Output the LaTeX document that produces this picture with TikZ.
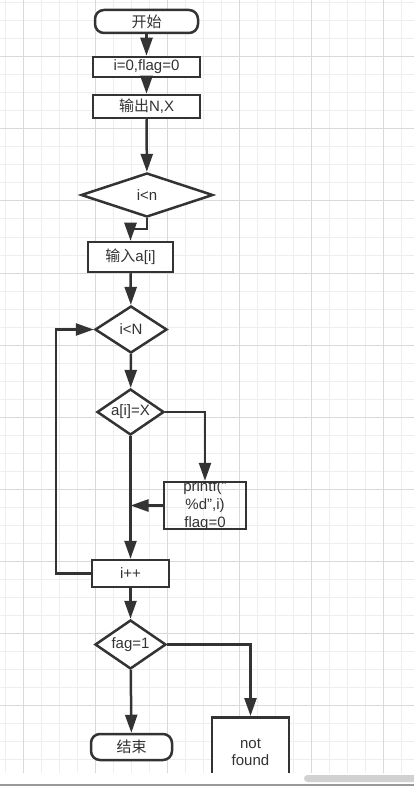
\documentclass[tikz,border=0pt]{standalone}
\usepackage{fontspec}
\setmainfont{Liberation Sans}
\newfontfamily\cjk{Noto Sans CJK SC}
\usepackage{tikz}
\usetikzlibrary{arrows.meta}
\usetikzlibrary{shapes.geometric}

\definecolor{ink}{HTML}{333333}
\definecolor{gridminor}{HTML}{EEEEEE}
\definecolor{gridmajor}{HTML}{D9D9D9}

\tikzset{
  box/.style={draw=ink, line width=2.5pt, fill=white, inner sep=0pt,
    text=ink, font=\fontsize{15}{17}\selectfont},
  term/.style={box, rounded corners=9pt},
  cond/.style={box, diamond},
  arr/.style={draw=ink, line width=2.5pt,
    -{Triangle[length=18pt,width=12pt]}},
}

\begin{document}
\begin{tikzpicture}[x=1pt,y=-1pt]

    \useasboundingbox (0,0) rectangle (414,786);

    % grid paper
    \foreach \gx in {5,23,...,401}
      \draw [gridminor, line width=1pt] (\gx,0) -- (\gx,773);
    \foreach \gy in {3,21,...,759}
      \draw [gridminor, line width=1pt] (0,\gy) -- (414,\gy);
    \foreach \gx in {23,95,...,383}
      \draw [gridmajor, line width=1pt] (\gx,0) -- (\gx,773);
    \foreach \gy in {57,129,...,705}
      \draw [gridmajor, line width=1pt] (0,\gy) -- (414,\gy);

    \node [term, minimum width=103pt, minimum height=23pt] (start)
      at (146.5,21.5) {\cjk 开始};
    \node [box, minimum width=107pt, minimum height=20pt] (init)
      at (146.5,67) {i=0,flag=0};
    \node [box, minimum width=107pt, minimum height=23pt] (show)
      at (146.5,106.5) {{\cjk 输出}N,X};
    \node [cond, aspect=3, minimum width=132pt, minimum height=44pt] (less)
      at (147,195) {i<n};
    \node [box, minimum width=85pt, minimum height=30pt] (input)
      at (130.5,257) {{\cjk 输入}a[i]};
    \node [cond, aspect=1.5, minimum width=72pt, minimum height=47pt] (loop)
      at (131,329.5) {i<N};
    \node [cond, aspect=1.45, minimum width=67pt, minimum height=46pt] (check)
      at (130.5,412) {a[i]=X};

    \begin{scope}
      \clip (164,482) rectangle (246,529);
      \node [align=center, inner sep=0pt, text=ink,
        font=\fontsize{15}{18}\selectfont] (printtext)
        at (205,505.5) {printf("\\\%d",i)\\flag=0};
    \end{scope}
    \node [box, fill=none, minimum width=82pt, minimum height=47pt] (print)
      at (205,505.5) {};

    \node [box, minimum width=77pt, minimum height=27pt] (inc)
      at (130.5,573.5) {i++};
    \node [cond, aspect=1.45, minimum width=71pt, minimum height=49pt] (found)
      at (130.5,644.5) {fag=1};
    \node [term, minimum width=81pt, minimum height=26pt] (stop)
      at (131.5,747) {\cjk 结束};
    \node [box, align=center, anchor=north, minimum width=77pt,
      minimum height=70pt] (notfound) at (250.5,716) {not\\found};

    \draw [arr] (start) -- (init);
    \draw [arr] (init) -- (show);
    \draw [arr] (show) -- (less);
    \draw [arr] (less.south) -- ++(0,11) -| (input.north);
    \draw [arr] (input) -- (loop);
    \draw [arr] (loop) -- (check);
    \draw [arr] (check.east) -| (print.north);
    \draw [arr] (print.west) -- (print.west -| check.south);
    \draw [arr] (check.south) -- (inc.north);
    \draw [arr] (inc.west) -- ++(-35,0) |- (loop.west);
    \draw [arr] (inc) -- (found);
    \draw [arr] (found.east) -| (notfound.north);
    \draw [arr] (found) -- (stop);

    % bottom edge of the window
    \fill [white] (0,773) rectangle (414,786);
    \fill [black!18, rounded corners=3.5pt] (304,775) rectangle (424,782);
    \fill [black!40] (0,783.5) rectangle (414,786);

  \end{tikzpicture}
\end{document}
